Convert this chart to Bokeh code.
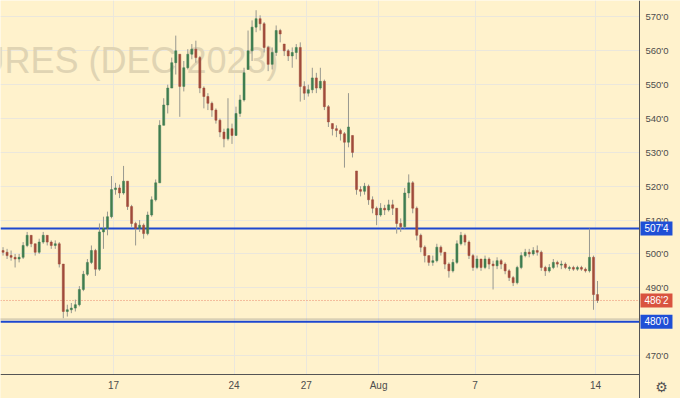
from bokeh.plotting import figure
from bokeh.models import FixedTicker, BoxAnnotation, ColumnDataSource, Range1d
from bokeh.core.properties import value
from bokeh.embed import file_html
from bokeh.resources import INLINE

# ---- data ----
sessions = ["Jul 10", "Jul 11", "Jul 12", "Jul 13", "Jul 14", "Jul 17", "Jul 18", "Jul 19",
            "Jul 20", "Jul 21", "Jul 24", "Jul 25", "Jul 26", "Jul 27", "Jul 28", "Jul 31",
            "Aug 1", "Aug 2", "Aug 3", "Aug 4", "Aug 7", "Aug 8", "Aug 9", "Aug 10",
            "Aug 11", "Aug 14"]
bars_per_session = 6
first_bar_slot = 2
first_open = 501.0

closes = [500.5, 499.5, 499.0, 498.5,
          499.0, 502.5, 505.5, 503.0, 500.5, 503.5,
          505.5, 503.5, 502.5, 503.0, 497.0, 483.0,
          483.5, 484.0, 485.0, 489.5, 494.0, 497.5,
          501.0, 495.5, 506.5, 507.5, 511.0, 519.0,
          519.5, 518.0, 521.5, 514.0, 509.0, 507.5,
          508.5, 506.0, 511.5, 516.0, 521.0, 538.0,
          544.0, 549.0, 556.5, 560.0, 549.5, 555.0,
          559.0, 560.5, 558.0, 549.0, 546.5, 544.5,
          542.5, 539.5, 536.0, 534.0, 537.0, 535.0,
          541.5, 545.5, 553.5, 560.0, 567.0, 569.5,
          568.0, 561.0, 556.0, 559.5, 566.0, 565.0,
          560.0, 558.5, 559.5, 561.0, 549.5, 547.5,
          548.5, 552.0, 549.0, 551.0, 543.5, 539.0,
          537.0, 536.5, 535.5, 533.0, 537.5, 530.0,
          519.0, 518.5, 520.0, 516.0, 513.5, 511.5,
          513.5, 513.0, 514.5, 513.5, 509.0, 508.0,
          518.0, 521.0, 513.5, 505.5, 502.0, 499.5,
          497.5, 498.0, 502.0, 500.5, 497.0, 495.0,
          497.5, 503.0, 505.5, 503.5, 499.5, 496.0,
          498.5, 496.0, 498.5, 497.0, 496.5, 498.0,
          497.0, 495.0, 493.0, 491.5, 496.0, 499.5,
          500.5, 500.0, 501.0, 500.5, 496.0, 495.0,
          496.0, 497.5, 497.0, 497.0, 496.0, 496.0,
          495.5, 496.0, 495.5, 495.0, 499.0, 488.0,
          486.25]

highs = [502, 501.5, 501, 500,
         500, 503.5, 506.5, 505.5, 503, 504.5,
         506.5, 505.5, 504, 504, 503.5, 497,
         485, 485.5, 486.5, 490.5, 495, 498.5,
         502.5, 501.5, 509, 511, 512.5, 523,
         521, 520.5, 526, 521.5, 514.5, 509.5,
         510, 509, 512.5, 517, 522, 539.5,
         546, 550, 558, 564.5, 559, 557,
         560.5, 562, 563, 558.5, 549.5, 547.5,
         545, 543, 540, 537, 546, 538.5,
         543.5, 547, 555, 566, 569, 572,
         570.5, 568.5, 561.5, 561, 567.5, 566.5,
         562, 560.5, 561, 562, 562.5, 551,
         550, 555, 553.5, 555, 551.5, 544,
         538.5, 538, 537, 536, 547.5, 535,
         524.5, 520, 521, 520.5, 517, 514,
         515, 514.5, 516, 516, 513.5, 510.5,
         519.5, 523.5, 521.5, 514, 506, 502.5,
         499.5, 499.5, 503, 502.5, 500.5, 497.5,
         498.5, 504, 506.5, 506, 504, 500,
         499.5, 498.5, 499.5, 499, 498, 499,
         498.5, 497.5, 495.5, 493.5, 496.5, 500.5,
         501.5, 501.5, 502, 502.5, 501, 496.5,
         497, 498.5, 498, 498, 497.5, 496.5,
         496.5, 496.5, 496.5, 496, 507.5, 499.5,
         492]

lows = [499.5, 498.5, 498, 496,
        497.5, 498.5, 502, 502, 499.5, 500,
        503, 502.5, 501.5, 501.5, 496, 481,
        481.5, 482.5, 483, 484.5, 489, 493.5,
        497, 493.5, 495, 501.5, 505.5, 510.5,
        517.5, 516.5, 517.5, 513, 508, 502.5,
        506.5, 504.5, 505.5, 511, 515.5, 521,
        538, 541.5, 549, 553, 540.5, 548,
        554.5, 557.5, 556.5, 547.5, 543, 542.5,
        540.5, 538.5, 534.5, 531.5, 533.5, 532.5,
        535, 540.5, 545, 554.5, 557, 565.5,
        566, 559.5, 554, 554.5, 558.5, 562.5,
        558.5, 557, 555, 557.5, 545, 545.5,
        546.5, 547.5, 547.5, 548.5, 542.5, 537.5,
        535, 534.5, 533.5, 525.5, 531.5, 528.5,
        517.5, 517, 517.5, 514.5, 512, 508.5,
        511, 511.5, 512.5, 511.5, 506, 506.5,
        507.5, 516.5, 512, 504, 500.5, 497.5,
        496.5, 496.5, 497.5, 499.5, 495.5, 493,
        494.5, 497, 502.5, 502.5, 498.5, 495,
        495.5, 495, 495.5, 495.5, 489.5, 495.5,
        495.5, 494, 492, 490.5, 491, 495.5,
        499, 499, 499.5, 499.5, 495, 493.5,
        494.5, 495.5, 496, 495.5, 495.5, 495,
        495, 495, 495, 494.5, 494.5, 483.5,
        485.5]

tick_sessions = [5, 10, 13, 16, 20, 25]
tick_labels = ["17", "24", "27", "Aug", "7", "14"]
price_ticks = [470, 480, 490, 500, 510, 520, 530, 540, 550, 560, 570]
price_tick_labels = ["470'0", "480'0", "490'0", "500'0", "510'0", "520'0",
                     "530'0", "540'0", "550'0", "560'0", "570'0"]
level_values = [507.5, 486.25, 480.0]
level_labels = ["507'4", "486'2", "480'0"]
level_colors = ["#1f4fd6", "#d9533f", "#1f4fd6"]
dotted_level = 480.75
watermark = "CORN FUTURES (DEC 2023)"

# ---- view geometry (data units) ----
X0, X1 = 0.311, 28.527          # visible sessions
Y0, Y1 = 457.29, 574.87         # visible prices
AXIS_X = 26.826                 # price scale position
AXIS_Y = 464.39                 # time scale position

# ---- build table ----
xs, opens = [], []
prev = first_open
for j, (h, l, c) in enumerate(zip(highs, lows, closes)):
    d, k = divmod(first_bar_slot + j, bars_per_session)
    xs.append(d + (k + 0.5) / bars_per_session)
    opens.append(min(max(prev, l), h))
    prev = c
top = [max(o, c) for o, c in zip(opens, closes)]
bot = [min(o, c) for o, c in zip(opens, closes)]
bot = [b if t - b > 0.3 else t - 0.3 for t, b in zip(top, bot)]
col = ["#3f7d50" if c >= o else "#a04b3b" for o, c in zip(opens, closes)]
src = ColumnDataSource(dict(x=xs, h=highs, l=lows, top=top, bot=bot, col=col))

BG = "#fff2cc"
FONT = "Liberation Sans"
p = figure(width=680, height=398, x_range=Range1d(X0, X1), y_range=Range1d(Y0, Y1),
           y_axis_location="right", output_backend="svg", toolbar_location=None,
           min_border=0, background_fill_color=BG, border_fill_color=BG,
           outline_line_color=None)

p.xgrid.grid_line_color = "#ebe7dc"
p.ygrid.grid_line_color = "#ebe7dc"
# blank the scale areas (over the grid)
p.add_layout(BoxAnnotation(left=AXIS_X, fill_color=BG, fill_alpha=1, line_color=None, level="underlay"))
p.add_layout(BoxAnnotation(top=AXIS_Y, fill_color=BG, fill_alpha=1, line_color=None, level="underlay"))

p.text(x=[11.85], y=[557.15], text=[watermark], text_align="right",
       text_baseline="alphabetic", text_font_size="36px", text_color="#e0d4b3",
       text_font=value(FONT))

# horizontal levels
p.segment(x0=[X0, X0], x1=[AXIS_X, AXIS_X], y0=[level_values[0], level_values[2]],
          y1=[level_values[0], level_values[2]], line_color="#1c47cf", line_width=2)
p.segment(x0=[X0], x1=[AXIS_X], y0=[level_values[1]], y1=[level_values[1]],
          line_color="#e8866c", line_width=1, line_dash="1 2")
p.segment(x0=[X0], x1=[AXIS_X], y0=[dotted_level], y1=[dotted_level],
          line_color="#7d7d7d", line_width=1, line_dash="1 1")

p.segment(x0="x", x1="x", y0="l", y1="h", source=src, line_color="#98988f", line_width=1)
p.vbar(x="x", width=0.085, top="top", bottom="bot", source=src, fill_color="col",
       line_color="col", line_width=0.5)

ax = p.yaxis[0]
ax.fixed_location = AXIS_X
ax.ticker = FixedTicker(ticks=price_ticks)
ax.major_label_overrides = {t: s for t, s in zip(price_ticks, price_tick_labels)}
ax.major_tick_line_color = None
ax.minor_tick_line_color = None
ax.major_tick_out = 0
ax.major_tick_in = 0
ax.axis_line_color = "#555555"
ax.major_label_standoff = 6
ax.major_label_text_font = FONT
ax.major_label_text_font_size = "9.5px"
ax.major_label_text_color = "#4d4d4d"

bx = p.xaxis[0]
bx.fixed_location = AXIS_Y
bx.bounds = (X0, AXIS_X)
bx.ticker = FixedTicker(ticks=tick_sessions)
bx.major_label_overrides = {t: s for t, s in zip(tick_sessions, tick_labels)}
bx.major_tick_line_color = None
bx.minor_tick_line_color = None
bx.major_tick_out = 0
bx.major_tick_in = 0
bx.axis_line_color = "#555555"
bx.major_label_standoff = 6
bx.major_label_text_font = FONT
bx.major_label_text_font_size = "10px"
bx.major_label_text_color = "#4d4d4d"

# price tags on the scale
TAG_X = 27.53
p.rect(x=[TAG_X] * 3, y=level_values, width=32, height=14, width_units="screen",
       height_units="screen", fill_color=level_colors, line_color=None, level="overlay")
p.text(x=[TAG_X] * 3, y=level_values, text=level_labels, text_align="center",
       text_baseline="middle", text_color="white", text_font=value(FONT),
       text_font_size="10px", level="overlay")

# settings icon
p.text(x=[27.74], y=[460.54], text=["\u2699"], text_align="center", text_baseline="middle",
       text_color="#555555", text_font_size="14px", text_font=value("DejaVu Sans"))

open("out.html", "w").write(file_html(p, INLINE))
